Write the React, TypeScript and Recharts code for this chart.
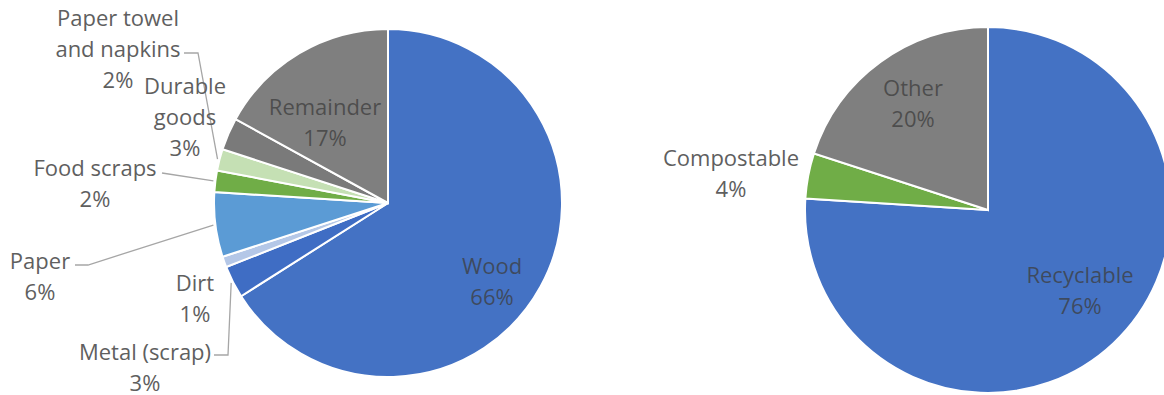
import { Cell, Pie, PieChart } from 'recharts';

// left pie: composition of the waste
const materialNames = [
  'Wood',
  'Metal (scrap)',
  'Dirt',
  'Paper',
  'Food scraps',
  'Paper towel and napkins',
  'Durable goods',
  'Remainder',
];
const materialShares = [66, 3, 1, 6, 2, 2, 3, 17];

// right pie: what can be diverted
const streamNames = ['Recyclable', 'Compostable', 'Other'];
const streamShares = [76, 4, 20];

const materialColors = ['#4472c4', '#3f6dc4', '#b4c7e7', '#5b9bd5', '#70ad47', '#c5e0b4', '#7a7a7a', '#7f7f7f'];
const streamColors = ['#4472c4', '#70ad47', '#7f7f7f'];

// how a name is wrapped in its label
const wrappedNames: Record<string, string[]> = {
  'Paper towel and napkins': ['Paper towel', 'and napkins'],
  'Durable goods': ['Durable', 'goods'],
};

interface LabelSpec {
  dx: number; // label centre, from the pie centre
  dy: number;
  inside?: boolean;
  lead?: { dx: number; dy: number; elbow: number };
}

const materialLabels: Record<string, LabelSpec> = {
  Wood: { dx: 104, dy: 77, inside: true },
  'Metal (scrap)': { dx: -243, dy: 163, lead: { dx: -174, dy: 152, elbow: 14 } },
  Dirt: { dx: -193, dy: 94 },
  Paper: { dx: -348, dy: 72, lead: { dx: -313, dy: 62, elbow: 13 } },
  'Food scraps': { dx: -293, dy: -21, lead: { dx: -226, dy: -30, elbow: 0 } },
  'Paper towel and napkins': { dx: -270, dy: -155, lead: { dx: -204, dy: -150, elbow: 14 } },
  'Durable goods': { dx: -203, dy: -87 },
  Remainder: { dx: -63, dy: -82, inside: true },
};

const streamLabels: Record<string, LabelSpec> = {
  Recyclable: { dx: 92, dy: 79, inside: true },
  Compostable: { dx: -257, dy: -38 },
  Other: { dx: -75, dy: -108, inside: true },
};

const RAD = Math.PI / 180;
const LINE_HEIGHT = 31;

function makeLabel(specs: Record<string, LabelSpec>) {
  return (props: any) => {
    const { cx, cy, midAngle, outerRadius, name, percent } = props;
    const spec = specs[name];
    if (!spec) return null;
    const lines = [...(wrappedNames[name] ?? [name]), `${Math.round(percent * 100)}%`];
    const x = cx + spec.dx;
    const y0 = cy + spec.dy - ((lines.length - 1) * LINE_HEIGHT) / 2;

    let leader = null;
    if (spec.lead) {
      const sx = cx + spec.lead.dx;
      const sy = cy + spec.lead.dy;
      const ex = cx + Math.cos(-midAngle * RAD) * (outerRadius + 2);
      const ey = cy + Math.sin(-midAngle * RAD) * (outerRadius + 2);
      leader = (
        <polyline
          points={`${sx},${sy} ${sx + spec.lead.elbow},${sy} ${ex},${ey}`}
          fill="none"
          stroke="#a6a6a6"
          strokeWidth={1.3}
        />
      );
    }

    return (
      <g>
        {leader}
        <text
          textAnchor="middle"
          fontFamily="'Open Sans', sans-serif"
          fontSize={22}
          fill={spec.inside ? '#3d3d3d' : '#5f5f5f'}
          fillOpacity={spec.inside ? 0.75 : 1}
        >
          {lines.map((line, i) => (
            <tspan key={i} x={x} y={y0 + i * LINE_HEIGHT} dominantBaseline="central">
              {line}
            </tspan>
          ))}
        </text>
      </g>
    );
  };
}

const materialData = materialNames.map((name, i) => ({ name, value: materialShares[i] }));
const streamData = streamNames.map((name, i) => ({ name, value: streamShares[i] }));

export default function App() {
  return (
    <div style={{ position: 'absolute', left: 0, top: 0, background: '#fff' }}>
      <PieChart width={1164} height={395} margin={{ top: 0, right: 0, bottom: 0, left: 0 }}>
        <Pie
          data={materialData}
          dataKey="value"
          nameKey="name"
          cx={388}
          cy={203}
          outerRadius={174}
          startAngle={90}
          endAngle={-270}
          stroke="#ffffff"
          strokeWidth={2}
          label={makeLabel(materialLabels)}
          labelLine={false}
          isAnimationActive={false}
        >
          {materialData.map((d, i) => (
            <Cell key={d.name} fill={materialColors[i]} />
          ))}
        </Pie>
        <Pie
          data={streamData}
          dataKey="value"
          nameKey="name"
          cx={988}
          cy={210}
          outerRadius={183}
          startAngle={90}
          endAngle={-270}
          stroke="#ffffff"
          strokeWidth={2}
          label={makeLabel(streamLabels)}
          labelLine={false}
          isAnimationActive={false}
        >
          {streamData.map((d, i) => (
            <Cell key={d.name} fill={streamColors[i]} />
          ))}
        </Pie>
      </PieChart>
    </div>
  );
}
